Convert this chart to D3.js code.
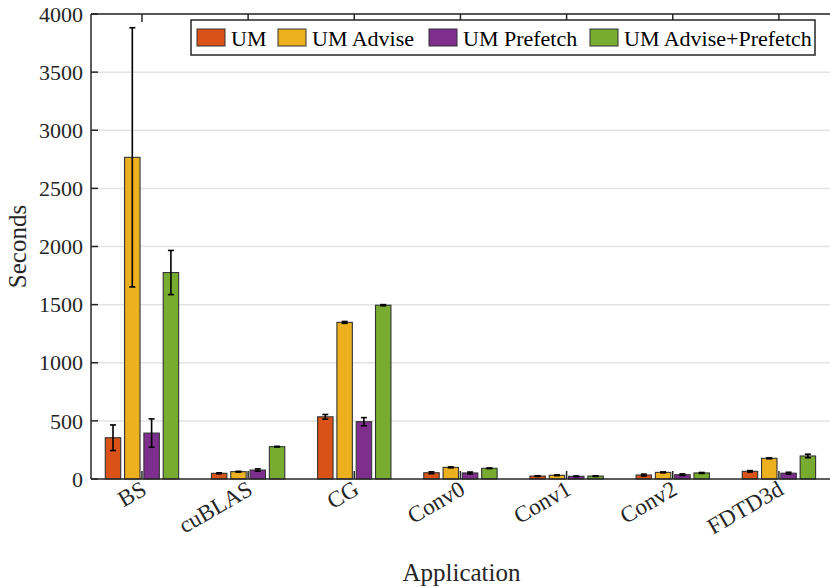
<!DOCTYPE html>
<html><head><meta charset="utf-8">
<script src="https://cdn.jsdelivr.net/npm/d3@7"></script>
<style>
html,body{margin:0;padding:0;background:#fff;}
svg{display:block;font-family:"Liberation Serif","Times New Roman",serif;}
</style></head>
<body><svg id="c" width="830" height="587"></svg>
<script>
const categories = ["BS","cuBLAS","CG","Conv0","Conv1","Conv2","FDTD3d"];
const seriesNames = ["UM","UM Advise","UM Prefetch","UM Advise+Prefetch"];
const seriesColors = ["#D95319","#EDB120","#7E2F8E","#77AC30"];
const umValues = [355, 49, 535, 54, 25, 34, 66];
const umErr = [110, 4, 20, 8, 3, 8, 6];
const adviseValues = [2767, 63, 1347, 100, 32, 57, 178];
const adviseErr = [1115, 3, 8, 4, 3, 4, 4];
const prefetchValues = [395, 77, 493, 52, 23, 37, 50];
const prefetchErr = [122, 10, 35, 8, 3, 7, 8];
const advPrefValues = [1776, 278, 1495, 92, 25, 52, 198];
const advPrefErr = [190, 3, 5, 3, 3, 4, 15];
const yTicks = [0,500,1000,1500,2000,2500,3000,3500,4000];

const values = [umValues, adviseValues, prefetchValues, advPrefValues];
const errs = [umErr, adviseErr, prefetchErr, advPrefErr];

const svg = d3.select("#c");
const L = 91, R = 832, T = 14, B = 479;
const x = d3.scaleLinear().domain([0.52, 7.5]).range([L, R]);
const y = d3.scaleLinear().domain([0, 4000]).range([B, T]);
const groupW = Math.min(0.8, 4/(4+1.5));
const step = groupW/4;
const barW = step*0.8;

// gridlines
svg.append("g").selectAll("line").data(yTicks.slice(1)).join("line")
  .attr("x1", L).attr("x2", R).attr("y1", d=>y(d)).attr("y2", d=>y(d))
  .attr("stroke", "#e3e3e3").attr("stroke-width", 1.5);

// bars
const data = [];
categories.forEach((c,i)=>{
  values.forEach((vals,j)=>{
    data.push({i:i+1, j, v:vals[i], e:errs[j][i]});
  });
});
const pos = d => d.i + (d.j - 1.5)*step;

svg.append("g").selectAll("rect").data(data).join("rect")
  .attr("x", d=>x(pos(d)-barW/2))
  .attr("width", d=>x(pos(d)+barW/2)-x(pos(d)-barW/2))
  .attr("y", d=>y(d.v))
  .attr("height", d=>y(0)-y(d.v))
  .attr("fill", d=>seriesColors[d.j])
  .attr("stroke", "#333").attr("stroke-width", 1.1);

// error bars
const eg = svg.append("g").attr("stroke", "#000").attr("stroke-width", 1.6);
data.forEach(d=>{
  const cx = x(pos(d));
  const y1 = y(d.v + d.e), y2 = y(Math.max(0, d.v - d.e));
  eg.append("line").attr("x1",cx).attr("x2",cx).attr("y1",y1).attr("y2",y2);
  eg.append("line").attr("x1",cx-3).attr("x2",cx+3).attr("y1",y1).attr("y2",y1);
  eg.append("line").attr("x1",cx-3).attr("x2",cx+3).attr("y1",y2).attr("y2",y2);
});

// axes frame
const axc = "#262626";
const fr = svg.append("g").attr("stroke", axc).attr("stroke-width", 1.5).attr("fill","none");
fr.append("line").attr("x1",L).attr("x2",L).attr("y1",T).attr("y2",B);
fr.append("line").attr("x1",L).attr("x2",R).attr("y1",B).attr("y2",B);
fr.append("line").attr("x1",L).attr("x2",R).attr("y1",T).attr("y2",T);
fr.append("line").attr("x1",R).attr("x2",R).attr("y1",T).attr("y2",B);

// y ticks
const yax = svg.append("g");
yTicks.forEach(t=>{
  yax.append("line").attr("x1",L).attr("x2",L+7).attr("y1",y(t)).attr("y2",y(t))
    .attr("stroke",axc).attr("stroke-width",1.5);
  yax.append("text").attr("x", L-8).attr("y", y(t)).attr("dy","0.35em")
    .attr("text-anchor","end").attr("font-size",22).attr("fill","#262626").text(t);
});

// x ticks
const xax = svg.append("g");
categories.forEach((c,i)=>{
  const cx = x(i+1);
  xax.append("line").attr("x1",cx).attr("x2",cx).attr("y1",B).attr("y2",B-8)
    .attr("stroke",axc).attr("stroke-width",1.5);
  xax.append("line").attr("x1",cx).attr("x2",cx).attr("y1",T).attr("y2",T+8)
    .attr("stroke",axc).attr("stroke-width",1.5);
  xax.append("text").attr("transform",`translate(${cx+2},${B+7.5}) rotate(-30)`)
    .attr("dy","0.35em").attr("text-anchor","end").attr("font-size",23)
    .attr("fill","#262626").text(c);
});

// axis labels
svg.append("text").attr("x", (L+R)/2).attr("y", 581).attr("text-anchor","middle")
  .attr("font-size",25).attr("fill","#262626").text("Application");
svg.append("text").attr("transform",`translate(26,${(T+B)/2}) rotate(-90)`)
  .attr("text-anchor","middle").attr("font-size",25).attr("fill","#262626").text("Seconds");

// legend
const lg = svg.append("g");
lg.append("rect").attr("x",191).attr("y",20).attr("width",624).attr("height",35)
  .attr("fill","#fff").attr("stroke",axc).attr("stroke-width",1.5);
const legX = [197, 278, 429, 590];
seriesNames.forEach((n,j)=>{
  lg.append("rect").attr("x",legX[j]).attr("y",29).attr("width",28).attr("height",17)
    .attr("fill",seriesColors[j]).attr("stroke","#333").attr("stroke-width",1);
  lg.append("text").attr("x",legX[j]+34).attr("y",38).attr("dy","0.35em")
    .attr("font-size",22).attr("fill","#000").text(n);
});
</script></body></html>
